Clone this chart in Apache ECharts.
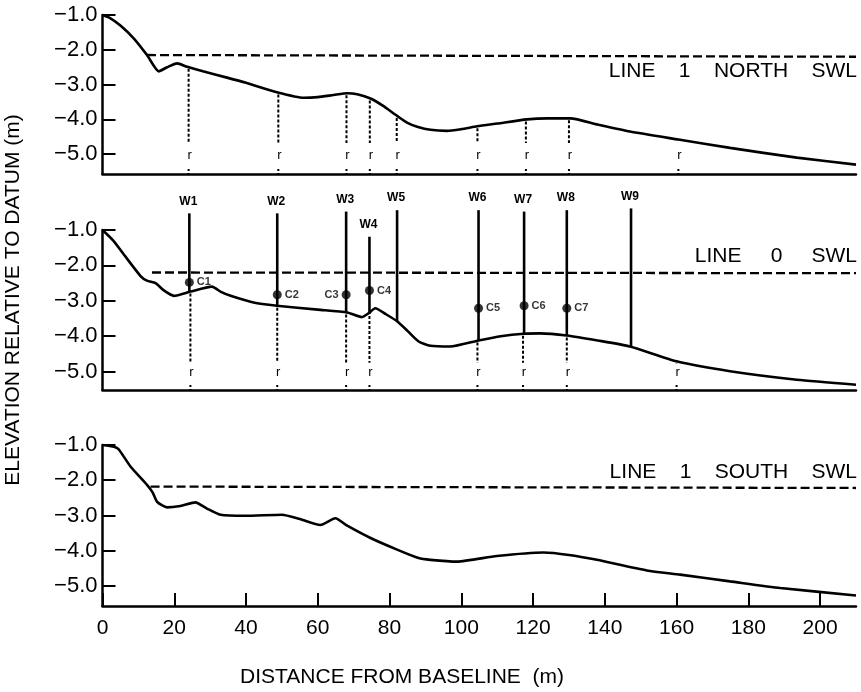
<!DOCTYPE html>
<html><head><meta charset="utf-8">
<script src="https://cdn.jsdelivr.net/npm/echarts@6/dist/echarts.min.js"></script>
<style>html,body{margin:0;padding:0;background:#fff}#c{width:861px;height:692px}</style>
</head><body><div id="c"></div>
<script>
// ---------- data ----------
const xTicks = [0, 20, 40, 60, 80, 100, 120, 140, 160, 180, 200];
const yTicks = [-5, -4, -3, -2, -1];

const profileNorth = [[0,-1.0],[2,-1.08],[5,-1.3],[8.7,-1.67],[12.4,-2.15],[15.7,-2.62],[18,-2.5],[20.8,-2.39],[23.6,-2.49],[28,-2.62],[34.7,-2.8],[40,-2.95],[48.6,-3.22],[56.1,-3.38],[60,-3.36],[64.4,-3.3],[68.2,-3.25],[71,-3.28],[74.7,-3.4],[78,-3.6],[82.1,-3.9],[85,-4.1],[87.7,-4.21],[91.4,-4.3],[96,-4.33],[100,-4.28],[104.4,-4.2],[110,-4.12],[118.3,-4.0],[124,-3.97],[130.4,-3.97],[138,-4.15],[147,-4.35],[160.5,-4.58],[174.9,-4.82],[193.5,-5.1],[210,-5.3]];
const profileLine0 = [[0,-1.0],[3,-1.3],[6,-1.7],[10.6,-2.3],[12.4,-2.43],[14.8,-2.5],[17,-2.7],[19.9,-2.86],[24.5,-2.74],[30.5,-2.6],[33,-2.75],[35.7,-2.86],[42.1,-3.05],[48.6,-3.14],[60,-3.25],[68.2,-3.33],[72.3,-3.46],[74.2,-3.35],[76,-3.21],[79,-3.38],[82.1,-3.58],[85,-3.85],[88.1,-4.15],[91.4,-4.27],[96.9,-4.29],[104.8,-4.12],[111,-4.0],[117.4,-3.93],[121.9,-3.92],[129.4,-3.98],[138,-4.12],[147,-4.29],[160,-4.71],[174.9,-4.99],[193.5,-5.23],[210,-5.37]];
const profileSouth = [[0,-1.0],[3.2,-1.05],[4.5,-1.12],[7.8,-1.61],[12.4,-2.13],[14,-2.35],[15.2,-2.61],[18,-2.77],[21.7,-2.73],[25.9,-2.63],[29,-2.8],[32.9,-2.98],[39.8,-3.01],[50,-2.98],[55,-3.1],[60.7,-3.27],[64.9,-3.08],[68.2,-3.29],[74.7,-3.64],[82.1,-3.97],[88.1,-4.21],[91.4,-4.26],[98.8,-4.31],[109.9,-4.15],[122.9,-4.05],[130,-4.12],[137.8,-4.26],[151.7,-4.56],[161,-4.68],[174.9,-4.87],[188.9,-5.06],[210,-5.27]];

const swlNorth = [[12.4,-2.15],[210,-2.2]];
const swlLine0 = [[13.8,-2.2],[210,-2.22]];
const swlSouth = [[13.4,-2.18],[210,-2.22]];

const staffNames = ['W1','W2','W3','W4','W5','W6','W7','W8','W9'];
const staffX = [24.2, 48.7, 67.9, 74.4, 82.1, 104.8, 117.5, 129.4, 147.3];
const staffTop = [-0.53, -0.53, -0.48, -1.19, -0.44, -0.44, -0.48, -0.44, -0.39];
const staffBottom = [-2.74, -3.14, -3.33, -3.37, -3.58, -4.12, -3.93, -3.98, -4.29];

const meterNames = ['C1','C2','C3','C4','C5','C6','C7'];
const meterX = [24.2, 48.7, 67.9, 74.4, 104.8, 117.5, 129.4];
const meterY = [-2.48, -2.83, -2.83, -2.71, -3.21, -3.14, -3.21];

const rNorthX = [24, 49, 68, 74.5, 82, 104.5, 118, 130, 160.5];
const rNorthTop = [-2.49, -3.23, -3.25, -3.4, -3.9, -4.2, -4.0, -3.97, -4.62];
const rLine0X = [24.5, 48.7, 67.9, 74.4, 104.5, 117.2, 129.4, 160];
const rLine0Top = [-2.74, -3.14, -3.33, -3.37, -4.12, -3.93, -3.98, -4.71];

const panelTitles = ['LINE    1    NORTH    SWL', 'LINE     0     SWL', 'LINE    1    SOUTH    SWL'];
const yTitle = 'ELEVATION RELATIVE TO DATUM (m)';
const xTitle = 'DISTANCE FROM BASELINE  (m)';

// ---------- chart ----------
const FONT = '"Liberation Sans", Arial, sans-serif';
const chart = echarts.init(document.getElementById('c'), null, {renderer: 'canvas'});

const grids = [
  {left: 102.5, right: 5, top: 15, height: 159, outerBoundsMode: 'none'},
  {left: 102.5, right: 5, top: 230, height: 160, outerBoundsMode: 'none'},
  {left: 102.5, right: 5, top: 445, height: 161, outerBoundsMode: 'none'}
];
const yMins = [-5.57, -5.52, -5.57];

const xAxes = grids.map((g, i) => ({
  type: 'value', gridIndex: i, min: 0, max: 210,
  axisLine: {show: true, lineStyle: {color: '#000', width: 2.5}},
  axisTick: {show: i === 2, inside: true, length: 13, lineStyle: {color: '#000', width: 2}, customValues: xTicks},
  axisLabel: {show: i === 2, customValues: xTicks, margin: 12, color: '#000', fontSize: 21, fontFamily: FONT},
  splitLine: {show: false}
}));
const yAxes = grids.map((g, i) => ({
  type: 'value', gridIndex: i, min: yMins[i], max: -1.0,
  axisLine: {show: true, onZero: false, lineStyle: {color: '#000', width: 2.5}},
  axisTick: {show: true, inside: true, length: 13, lineStyle: {color: '#000', width: 2}, customValues: yTicks},
  axisLabel: {show: true, customValues: yTicks, margin: 5, color: '#000', fontSize: 22, fontFamily: FONT,
    formatter: v => '\u2212' + Math.abs(v).toFixed(1)},
  splitLine: {show: false}
}));

function profileSeries(data, i) {
  return {type: 'line', xAxisIndex: i, yAxisIndex: i, data: data, symbol: 'none', smooth: 0.2,
    lineStyle: {color: '#000', width: 2.6}, silent: true, z: 3};
}
function swlSeries(data, i) {
  return {type: 'line', xAxisIndex: i, yAxisIndex: i, data: data, symbol: 'none',
    lineStyle: {color: '#000', width: 2.3, type: [9, 4]}, silent: true, z: 2};
}
function rSeries(xs, tops, i, dashEnd, rPos) {
  return {
    type: 'custom', xAxisIndex: i, yAxisIndex: i, silent: true, z: 4,
    data: xs.map((x, k) => [x, tops[k]]),
    encode: {x: 0, y: 1},
    renderItem: function (params, api) {
      const x = api.value(0), t = api.value(1);
      const p1 = api.coord([x, t]);
      const p2 = api.coord([x, dashEnd]);
      const pr = api.coord([x, rPos]);
      const bottom = params.coordSys.y + params.coordSys.height;
      return {type: 'group', children: [
        {type: 'line', shape: {x1: p1[0], y1: p1[1] + 2, x2: p2[0], y2: p2[1]},
          style: {stroke: '#000', lineWidth: 2, lineDash: [3, 2]}},
        {type: 'text', x: pr[0] + 1, y: pr[1], style: {text: 'r', fill: '#000', font: '13px ' + FONT, textAlign: 'center', textVerticalAlign: 'middle'}},
        {type: 'line', shape: {x1: p1[0], y1: bottom - 5, x2: p1[0], y2: bottom},
          style: {stroke: '#000', lineWidth: 2, lineDash: [2, 2]}}
      ]};
    }
  };
}

const series = [
  profileSeries(profileNorth, 0), swlSeries(swlNorth, 0), rSeries(rNorthX, rNorthTop, 0, -4.68, -5.03),
  profileSeries(profileLine0, 1), swlSeries(swlLine0, 1), rSeries(rLine0X, rLine0Top, 1, -4.75, -5.03),
  profileSeries(profileSouth, 2), swlSeries(swlSouth, 2),
  {
    type: 'custom', xAxisIndex: 1, yAxisIndex: 1, silent: true, z: 5, clip: false,
    data: staffX.map((x, k) => [x, staffTop[k], staffBottom[k]]),
    encode: {x: 0, y: [1, 2]},
    renderItem: function (params, api) {
      const x = api.value(0);
      const p1 = api.coord([x, api.value(1)]);
      const p2 = api.coord([x, api.value(2)]);
      return {type: 'group', children: [
        {type: 'line', shape: {x1: p1[0], y1: p1[1], x2: p2[0], y2: p2[1]}, style: {stroke: '#000', lineWidth: 2.6}},
        {type: 'text', x: p1[0] - 1, y: p1[1] - 12, style: {text: staffNames[params.dataIndex], fill: '#000',
          font: 'bold 12px ' + FONT, textAlign: 'center', textVerticalAlign: 'middle'}}
      ]};
    }
  },
  {
    type: 'scatter', xAxisIndex: 1, yAxisIndex: 1, silent: true, z: 6, clip: false,
    symbol: 'circle', symbolSize: 9, itemStyle: {color: '#000'},
    data: meterX.map((x, k) => ({value: [x, meterY[k]], name: meterNames[k],
      label: k === 2 ? {position: 'left', distance: 3} : undefined})),
    label: {show: true, position: 'right', distance: 3, formatter: p => p.name, color: '#000',
      fontSize: 11, fontWeight: 'bold', fontFamily: FONT}
  }
];

chart.setOption({
  animation: false,
  backgroundColor: '#fff',
  grid: grids,
  xAxis: xAxes,
  yAxis: yAxes,
  title: [
    {text: panelTitles[0], right: 4, top: 61, padding: 0, textStyle: {fontSize: 21, fontWeight: 'normal', color: '#000', fontFamily: FONT}},
    {text: panelTitles[1], right: 4, top: 246, padding: 0, textStyle: {fontSize: 21, fontWeight: 'normal', color: '#000', fontFamily: FONT}},
    {text: panelTitles[2], right: 4, top: 462, padding: 0, textStyle: {fontSize: 21, fontWeight: 'normal', color: '#000', fontFamily: FONT}}
  ],
  graphic: [
    {type: 'text', x: 13, y: 300, rotation: Math.PI / 2, silent: true,
      style: {text: yTitle, fill: '#000', font: '21px ' + FONT, textAlign: 'center', textVerticalAlign: 'middle'}},
    {type: 'text', x: 402, y: 677, silent: true,
      style: {text: xTitle, fill: '#000', font: '21px ' + FONT, textAlign: 'center', textVerticalAlign: 'middle'}}
  ],
  series: series
});
</script>
</body></html>
